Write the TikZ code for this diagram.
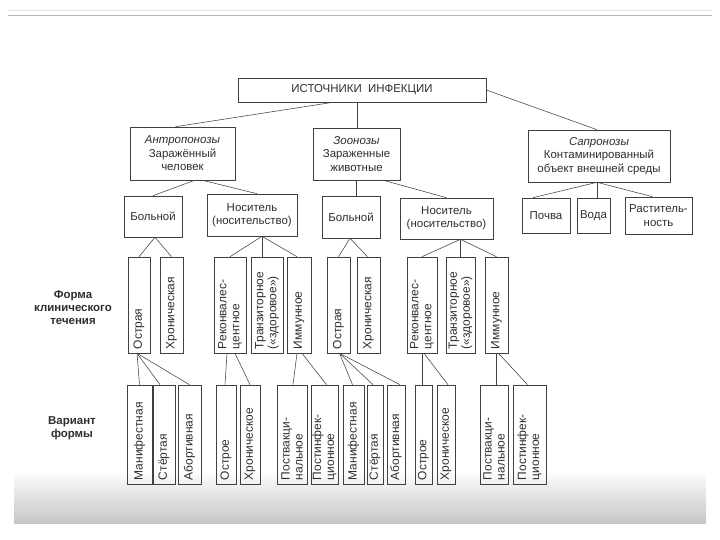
\documentclass[tikz,border=0pt]{standalone}
\usepackage{fontspec}
\setmainfont{Liberation Sans}
\usetikzlibrary{calc}
\definecolor{ink}{gray}{0.25}
\definecolor{txt}{gray}{0.18}
\tikzset{
  box/.style={draw=ink, line width=0.6pt, inner sep=0pt, align=center, text=txt,
    font=\fontsize{11.5}{13.5}\selectfont},
  vbox/.style={draw=ink, line width=0.6pt, inner sep=0pt},
  vtext/.style={inner sep=0pt, align=left, text=txt, rotate=90, anchor=west,
    font=\fontsize{12}{13}\selectfont},
  lab/.style={align=center, text=txt, font=\bfseries\fontsize{11.5}{13}\selectfont},
  con/.style={draw=ink, line width=0.55pt}
}
\newcommand\BX[6]{%
  \node[box, minimum width={(#4-#2)*1bp}, minimum height={(#5-#3)*1bp}] (#1)
    at ({(#2+#4)/2},{(#3+#5)/2}) {#6};}
\newcommand\VB[6]{%
  \node[vbox, minimum width={(#3-#2)*1bp}, minimum height={(#5-#4)*1bp}] (#1)
    at ({(#2+#3)/2},{(#4+#5)/2}) {};
  \node[vtext] (#1t) at ([yshift=4bp]#1.south) {#6};}
\begin{document}
\begin{tikzpicture}[x=1bp, y=-1bp]
\useasboundingbox (0,0) rectangle (720,540);
% page of the scan
\shade[top color=white, bottom color=gray!45] (14,470) rectangle (706,523);
\draw[gray!55, line width=0.8pt] (8,15) -- (712,15);
\draw[gray!25, line width=0.5pt] (8,10) -- (712,10);

% level 1
\BX{T}{238}{78}{486}{102}{ИСТОЧНИКИ\ \ ИНФЕКЦИИ}
% level 2
\BX{A}{130}{127}{235}{180}{\textit{Антропонозы}\\Заражённый\\человек}
\BX{Z}{313}{128}{400}{180}{\textit{Зоонозы}\\Зараженные\\животные}
\BX{S}{528}{130}{670}{182}{\textit{Сапронозы}\\Контаминированный\\объект внешней среды}
% level 3
\BX{B1}{124}{196}{182}{237}{Больной}
\BX{N1}{207}{194}{297}{236}{Носитель\\(носительство)}
\BX{B2}{322}{196}{380}{238}{Больной}
\BX{N2}{400}{198}{493}{239}{Носитель\\(носительство)}
\BX{P}{522}{198}{570}{233}{Почва}
\BX{V}{577}{198}{610}{233}{Вода}
\BX{R}{625}{197}{692}{234}{Раститель-\\ность}
% level 4
\VB{O1}{128}{150}{257}{353}{Острая}
\VB{H1}{160}{183}{257}{353}{Хроническая}
\VB{RK1}{214}{246}{257}{353}{Реконвалес-\\центное}
\VB{TR1}{251}{283}{257}{353}{Транзиторное\\(«здоровое»)}
\VB{IM1}{287}{311}{257}{353}{Иммунное}
\VB{O2}{327}{350}{257}{353}{Острая}
\VB{H2}{357}{380}{257}{353}{Хроническая}
\VB{RK2}{407}{437}{257}{353}{Реконвалес-\\центное}
\VB{TR2}{446}{475}{257}{353}{Транзиторное\\(«здоровое»)}
\VB{IM2}{485}{508}{257}{353}{Иммунное}
% level 5
\VB{M1}{127}{152}{385}{484}{Манифестная}
\VB{S1}{153}{175}{385}{484}{Стёртая}
\VB{A1}{178}{201}{385}{484}{Абортивная}
\VB{OE1}{216}{236}{385}{484}{Острое}
\VB{HE1}{240}{260}{385}{484}{Хроническое}
\VB{PV1}{277}{307}{385}{484}{Поствакци-\\нальное}
\VB{PI1}{311}{338}{385}{484}{Постинфек-\\ционное}
\VB{M2}{343}{364}{385}{484}{Манифестная}
\VB{S2}{367}{383}{385}{484}{Стёртая}
\VB{A2}{387}{405}{385}{484}{Абортивная}
\VB{OE2}{415}{432}{385}{484}{Острое}
\VB{HE2}{437}{455}{385}{484}{Хроническое}
\VB{PV2}{480}{508}{385}{484}{Поствакци-\\нальное}
\VB{PI2}{513}{546}{385}{484}{Постинфек-\\ционное}

% side labels
\node[lab] (L1) at (73,308) {Форма\\клинического\\течения};
\node[lab] (L2) at (72,428) {Вариант\\формы};

% connectors level 1 -> 2
\draw[con] ([xshift=-29bp]T.south) -- ([xshift=-7bp]A.north);
\draw[con] ([xshift=-5bp]T.south) -- ([xshift=-5bp]T.south |- Z.north);
\draw[con] (T.east) -- ([xshift=-2bp]S.north);
% level 2 -> 3
\draw[con] ([xshift=12bp]A.south) -- (B1.north);
\draw[con] ([xshift=20bp]A.south) -- ([xshift=5bp]N1.north);
\draw[con] (Z.south) -- (Z.south |- B2.north);
\draw[con] ([xshift=27bp]Z.south) -- (N2.north);
\coordinate (sa) at ([xshift=-2bp]S.south);
\draw[con] (sa) -- ([xshift=-13bp]P.north);
\draw[con] (sa) -- (sa |- V.north);
\draw[con] (sa) -- ([xshift=-6bp]R.north);
% level 3 -> 4
\coordinate (b1a) at ([xshift=2bp]B1.south);
\draw[con] (b1a) -- (O1.north);
\draw[con] (b1a) -- (H1.north);
\coordinate (n1a) at ([xshift=10bp]N1.south);
\draw[con] (n1a) -- (RK1.north);
\draw[con] (n1a) -- (n1a |- TR1.north);
\draw[con] (n1a) -- ([xshift=-2bp]IM1.north);
\coordinate (b2a) at ([xshift=-1bp]B2.south);
\draw[con] (b2a) -- (O2.north);
\draw[con] (b2a) -- ([xshift=-1bp]H2.north);
\coordinate (n2a) at ([xshift=14bp]N2.south);
\draw[con] (n2a) -- (RK2.north);
\draw[con] (n2a) -- (n2a |- TR2.north);
\draw[con] (n2a) -- (IM2.north);
% level 4 -> 5
\coordinate (o1a) at ([xshift=-2bp]O1.south);
\draw[con] (o1a) -- (M1.north);
\draw[con] (o1a) -- ([xshift=-4bp]S1.north);
\draw[con] (o1a) -- (A1.north);
\draw[con] ([xshift=-3bp]RK1.south) -- ([xshift=-1bp]OE1.north);
\draw[con] ([xshift=5bp]RK1.south) -- (HE1.north);
\draw[con] ([xshift=-2bp]IM1.south) -- ([xshift=1bp]PV1.north);
\draw[con] ([xshift=3bp]IM1.south) -- ([xshift=2bp]PI1.north);
\coordinate (o2a) at ([xshift=1bp]O2.south);
\draw[con] (o2a) -- ([xshift=-1bp]M2.north);
\draw[con] (o2a) -- ([xshift=-2bp]S2.north);
\draw[con] (o2a) -- ([xshift=4bp]A2.north);
\draw[con] (RK2.south) -- (RK2.south |- OE2.north);
\draw[con] ([xshift=2bp]RK2.south) -- ([xshift=2bp]HE2.north);
\draw[con] (IM2.south) -- (IM2.south |- PV2.north);
\draw[con] ([xshift=2bp]IM2.south) -- ([xshift=-2bp]PI2.north);
\end{tikzpicture}
\end{document}
